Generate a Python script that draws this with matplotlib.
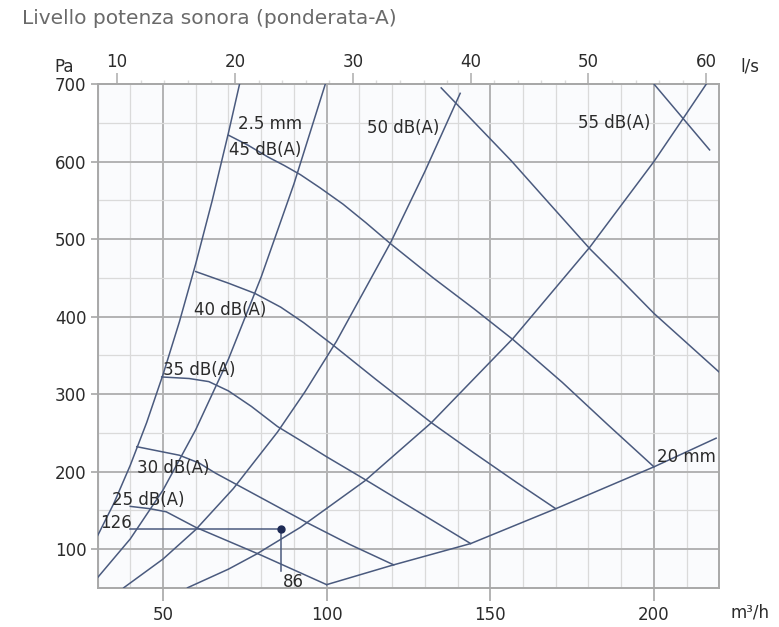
import matplotlib
matplotlib.use("Agg")
from matplotlib import pyplot as plt
from matplotlib.ticker import MultipleLocator

plt.rcParams['font.family'] = ['DejaVu Sans']

# Valve opening curves: flow (m3/h) vs pressure drop (Pa)
q_2_5mm = [30, 35, 40, 45, 50, 55, 60, 65, 70, 73.4]
p_2_5mm = [117, 159, 208, 263, 325, 393, 468, 549, 637, 700]
q_open2 = [30, 40, 50, 60, 70, 80, 90, 99.6]
p_open2 = [63, 113, 176, 254, 345, 451, 571, 700]
q_open3 = [38, 50, 60, 71.5, 85, 93.4, 103, 119.5, 130, 140.8]
p_open3 = [50, 87, 125, 178, 251, 303, 368, 495, 587, 688]
q_open4 = [57.5, 70, 78.6, 92, 111.7, 132, 157, 180.5, 200, 209, 216]
p_open4 = [50, 74, 93.5, 128, 188, 263, 372, 490, 600, 656, 700]
q_20mm = [100, 120, 144, 170, 200, 219]
p_20mm = [54, 79, 107, 152, 206, 243]

# Sound power level lines
q_db25 = [40, 46, 51, 60, 70, 80, 90, 100]
p_db25 = [155, 152, 148, 128, 110, 92, 73, 54]
q_db30 = [42, 55, 61, 66, 80, 94, 107, 120.5]
p_db30 = [232, 221, 211, 198, 166, 134, 106, 79.5]
q_db35 = [49.6, 58, 64, 70, 77, 85, 92, 100, 112, 128, 144]
p_db35 = [322, 320, 316, 304, 284, 258, 240, 219, 189, 148, 107]
q_db40 = [60, 70, 78, 86, 93, 102, 115, 132, 145, 158, 170]
p_db40 = [458, 443, 430, 412, 392, 363, 319, 263, 224, 186, 152]
q_db45 = [70, 76, 82, 87, 92, 98, 105, 112, 119.5, 132.5, 145, 157, 172, 186, 200]
p_db45 = [634, 621, 606, 595, 583, 566, 545, 521, 494, 450, 410, 370, 315, 260, 206]
q_db50 = [135, 156.4, 168, 180.5, 190, 200, 210, 220]
p_db50 = [695, 601, 546, 487, 447, 404, 366, 328]
q_db55 = [200, 217]
p_db55 = [700, 615]

# Operating point
q_op = 86
p_op = 126

line_col = '#4a5a7e'
grid_major = '#b3b3b3'
grid_minor = '#dadada'
txt_col = '#2b2b2b'

fig = plt.figure(figsize=(7.79, 6.27), dpi=100)
ax = fig.add_axes([0.1252, 0.0626, 0.7983, 0.8034])
ax.set_facecolor('#fafbfd')

ax.set_xlim(30, 220)
ax.set_ylim(50, 700)
ax.set_xticks([50, 100, 150, 200])
ax.xaxis.set_minor_locator(MultipleLocator(10))
ax.set_yticks([100, 200, 300, 400, 500, 600, 700])
ax.yaxis.set_minor_locator(MultipleLocator(50))

ax.grid(which='major', color=grid_major, lw=1.4, zorder=0)
ax.grid(which='minor', color=grid_minor, lw=0.9, zorder=0)
ax.set_axisbelow(True)
ax.tick_params(axis='x', which='major', length=9, width=1.4, color=grid_major,
               labelsize=12, labelcolor=txt_col, pad=4)
ax.tick_params(axis='y', which='major', length=5, width=1.4, color=grid_major,
               labelsize=12, labelcolor=txt_col, pad=3)
ax.tick_params(which='minor', length=0)
for s in ax.spines.values():
    s.set_color('#a8a8a8')
    s.set_linewidth(1.4)

# l/s scale on top
sec = ax.secondary_xaxis('top', functions=(lambda q: q / 3.6, lambda l: l * 3.6))
sec.set_xticks([10, 20, 30, 40, 50, 60])
sec.xaxis.set_minor_locator(MultipleLocator(2))
sec.tick_params(which='major', length=8, width=1.2, color=grid_major,
                labelsize=12, labelcolor=txt_col, pad=1.5)
sec.tick_params(which='minor', length=3, width=1.0, color=grid_minor)
sec.spines['top'].set_color('#a8a8a8')
sec.spines['top'].set_linewidth(1.4)

curves = [(q_2_5mm, p_2_5mm), (q_open2, p_open2), (q_open3, p_open3),
          (q_open4, p_open4), (q_20mm, p_20mm),
          (q_db25, p_db25), (q_db30, p_db30), (q_db35, p_db35),
          (q_db40, p_db40), (q_db45, p_db45), (q_db50, p_db50), (q_db55, p_db55)]
for q, p in curves:
    ax.plot(q, p, color=line_col, lw=1.1, zorder=3)

# operating point with leaders to its values
ax.plot([40, q_op], [p_op, p_op], color=line_col, lw=1.1, zorder=3)
ax.plot([q_op, q_op], [p_op, 71], color=line_col, lw=1.1, zorder=3)
ax.plot(q_op, p_op, 'o', color='#1d2a55', ms=5, zorder=4)

labels = [
    ("2.5 mm", 73.0, 648),
    ("45 dB(A)", 70.3, 615),
    ("40 dB(A)", 59.5, 408),
    ("35 dB(A)", 49.9, 331),
    ("30 dB(A)", 42.0, 204),
    ("25 dB(A)", 34.3, 163),
    ("126", 30.8, 134),
    ("86", 86.6, 58),
    ("50 dB(A)", 112.2, 643),
    ("55 dB(A)", 176.9, 650),
    ("20 mm", 200.8, 219),
]
for s, x, y in labels:
    ax.text(x, y, s, fontsize=12, color=txt_col, ha='left', va='center', zorder=5)

fig.text(0.0282, 0.9697, "Livello potenza sonora (ponderata-A)", fontsize=14.5,
         color='#6a6a6a', ha='left', va='center')
fig.text(0.0822, 0.8931, "Pa", fontsize=12, color=txt_col, ha='center', va='center')
fig.text(0.9628, 0.8947, "l/s", fontsize=12, color=txt_col, ha='center', va='center')
fig.text(0.9628, 0.0239, "m³/h", fontsize=12, color=txt_col, ha='center', va='center')

fig.savefig("out.png", dpi=100)
